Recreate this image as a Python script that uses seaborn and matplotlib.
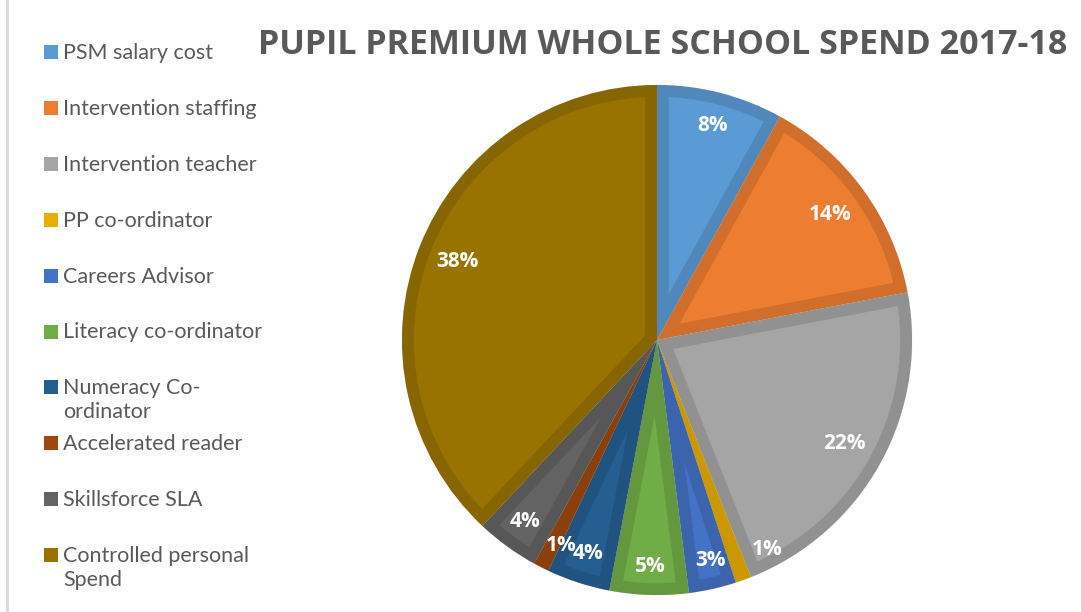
import matplotlib
matplotlib.use("Agg")
import matplotlib.pyplot as plt
import seaborn as sns
import numpy as np
from matplotlib.patches import Rectangle, Wedge
from matplotlib.lines import Line2D
import matplotlib.colors as mcolors

categories = ["PSM salary cost", "Intervention staffing", "Intervention teacher",
              "PP co-ordinator", "Careers Advisor", "Literacy co-ordinator",
              "Numeracy Co-\nordinator", "Accelerated reader", "Skillsforce SLA",
              "Controlled personal\nSpend"]
values = [8, 14, 22, 1, 3, 5, 4, 1, 4, 38]
pct_labels = ["8%", "14%", "22%", "1%", "3%", "5%", "4%", "1%", "4%", "38%"]
colors = ["#5B9BD5", "#ED7D31", "#A5A5A5", "#E8AD00", "#4472C4", "#70AD47",
          "#255E91", "#9E480E", "#636363", "#997300"]
title = "PUPIL PREMIUM WHOLE SCHOOL SPEND 2017-18"

sns.set_theme(style="white")
plt.rcParams['font.family'] = ['Open Sans', 'DejaVu Sans']

W, H = 1081, 612
fig = plt.figure(figsize=(W / 100, H / 100), dpi=100)
fig.patch.set_facecolor("white")

# pie axes
cx, cy, r = 657, 340, 255
ax = fig.add_axes([(cx - r) / W, (H - cy - r) / H, 2 * r / W, 2 * r / H])
wedges, _ = ax.pie(values, colors=colors, startangle=90, counterclock=False,
                   radius=1.0, wedgeprops=dict(linewidth=0.5, edgecolor="#EAEAEA"))
ax.set_xlim(-1, 1)
ax.set_ylim(-1, 1)
ax.set_aspect("equal")
ax.axis("off")

# inner darker border for each wedge
for w, c in zip(wedges, colors):
    dark = np.array(mcolors.to_rgb(c)) * 0.88
    inner = Wedge(w.center, w.r, w.theta1, w.theta2,
                  facecolor="none", edgecolor=dark, linewidth=17)
    ax.add_patch(inner)
    inner.set_clip_path(w)

# percentage labels
label_r = [0.87, 0.84, 0.84, 0.93, 0.89, 0.89, 0.88, 0.89, 0.88, 0.84]
angle_shift = [0, 0, 0, 8, 1, 0, 0, 2, 0, 0]
for w, lab, lr, sh in zip(wedges, pct_labels, label_r, angle_shift):
    mid = np.deg2rad((w.theta1 + w.theta2) / 2 + sh)
    ax.text(lr * np.cos(mid), lr * np.sin(mid), lab, ha="center", va="center",
            color="white", fontsize=15, fontweight="bold")

# title
fig.text(663 / W, 1 - 45 / H, title, ha="center", va="center",
         fontsize=24.5, fontweight="bold", color="#595959")

# legend (drawn manually)
y0, step = 52, 55.9
for i, (cat, c) in enumerate(zip(categories, colors)):
    y = y0 + i * step
    fig.patches.append(Rectangle((44 / W, 1 - (y + 7) / H), 14 / W, 14 / H,
                                 transform=fig.transFigure, facecolor=c,
                                 edgecolor="none", figure=fig))
    fig.text(63 / W, 1 - (y - 9) / H, cat, ha="left", va="top",
             fontsize=15.5, color="#595959", linespacing=1.25,
             family=["Lato", "DejaVu Sans"])

# left border line
fig.add_artist(Line2D([7 / W, 7 / W], [0, 1], transform=fig.transFigure,
                      color="#D9D9D9", linewidth=2))

fig.savefig("out.png", dpi=100, facecolor="white")
